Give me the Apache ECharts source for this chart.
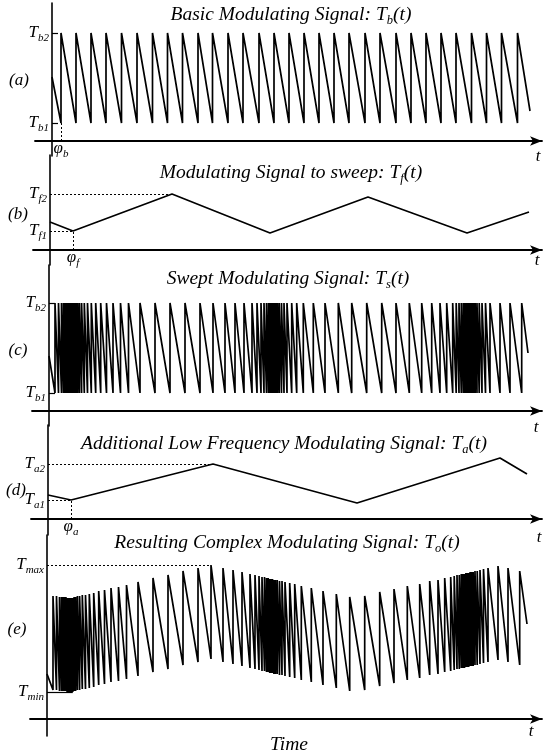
<!DOCTYPE html>
<html>
<head>
<meta charset="utf-8">
<script src="https://cdn.jsdelivr.net/npm/echarts@6/dist/echarts.min.js"></script>
<style>
	html, body { margin: 0; padding: 0; background: #fff; }
	#chart { width: 548px; height: 756px; }
</style>
</head>
<body>
<div id="chart"></div>
<script>
// ---- data (time and level units) ----

// (a) basic modulating signal T_b(t): instants of the sawtooth flyback
const basicFlybacks = [9, 24, 39, 54, 69.5, 85, 100.5, 115.5, 130.5, 146, 160.5, 176, 191, 207, 222, 237,
	252, 267, 282, 297, 313, 328, 344, 359, 374, 389, 404, 419.5, 434.5, 449.5, 465.5];
const basicLevels = [18, 108]; // T_b1, T_b2
const basicEnds = [[0, 64], [478, 30]];

// (b) modulating signal to sweep T_f(t)
const sweepTimes = [0, 23, 122, 220, 318, 417, 479];
const sweepValues = [28, 19, 56, 17, 53, 17, 38];

// (c) swept modulating signal T_s(t)
const sweptFlybacks = [6, 9.5, 12.5, 14.5, 16.2, 17.6, 18.9, 20.1, 21.3, 22.4,
	23.5, 24.6, 25.8, 27.1, 28.6, 30.4, 32.6, 35.3, 38.5, 42.3,
	46.7, 51.7, 57.5, 64, 71.5, 79.5, 91, 106, 121, 136,
	151, 164, 176, 186, 195, 203,
	208, 212, 215, 217.5, 219.5, 221.2, 222.7, 224.1, 225.5, 226.9,
	228.4, 230.2, 232.5, 235, 238, 242.7, 247.7, 254.3, 264.3, 276,
	289.3, 302.7, 317.7, 332.7, 347, 360.3, 372.7, 382.7, 391, 397.7,
	403.7,
	407.2, 410, 412.3, 414.3, 416, 417.5, 418.9, 420.3, 421.7, 423.1,
	424.6, 426.2, 428, 430.2, 433, 436.5, 441, 451, 461, 472.7];
const sweptLevels = [18, 108];
const sweptEnds = [[0, 55], [479, 58]];

// (d) additional low frequency modulating signal T_a(t)
const lowTimes = [0, 23, 165, 309, 452, 479];
const lowValues = [24, 19, 55, 16, 61, 45];

// (e) resulting complex signal T_o(t), same flyback instants as (c)
const resultLows = [29, 29, 28, 28, 28, 28, 28, 27, 27, 27,
	27, 27, 27, 28, 28, 29, 29, 30, 30, 31,
	32, 34, 35, 37, 38, 40, 43, 47, 50, 54,
	57, 60, 57, 55, 53, 51,
	50, 49, 48, 48, 47, 47, 46, 46, 46, 45,
	45, 45, 44, 44, 43, 42, 41, 39, 37, 34,
	31, 28, 29, 33, 36, 39, 41, 44, 45, 47,
	48,
	49, 50, 50, 51, 51, 51, 52, 52, 52, 53,
	53, 53, 54, 54, 55, 56, 57, 59, 57, 54];
const resultHighs = [123, 123, 122, 122, 122, 122, 122, 121, 121, 121,
	121, 121, 121, 122, 122, 123, 123, 124, 124, 125,
	126, 128, 129, 131, 132, 134, 137, 141, 144, 148,
	151, 154, 151, 149, 147, 145,
	144, 143, 142, 142, 141, 141, 140, 140, 140, 139,
	139, 139, 138, 138, 137, 136, 135, 133, 131, 128,
	125, 122, 123, 127, 130, 133, 135, 138, 139, 141,
	142,
	143, 144, 144, 145, 145, 145, 146, 146, 146, 147,
	147, 147, 148, 148, 149, 150, 151, 153, 151, 148];
const resultEnds = [[0, 45], [480, 95]];

// ---- styling helpers ----
const SERIF = '"Liberation Serif", "Times New Roman", serif';
const INK = "#000";

const RICH = {
	m: { fontFamily: SERIF, fontStyle: "italic", fontSize: 17, lineHeight: 22, color: INK, fill: INK },
	s: { fontFamily: SERIF, fontStyle: "italic", fontSize: 11, lineHeight: 11, verticalAlign: "bottom", color: INK, fill: INK },
	h: { fontFamily: SERIF, fontStyle: "italic", fontSize: 19.5, lineHeight: 24, color: INK, fill: INK },
	hs: { fontFamily: SERIF, fontStyle: "italic", fontSize: 12.5, lineHeight: 12, verticalAlign: "bottom", color: INK, fill: INK },
};

function sawtooth(ends, flybacks, lows, highs) {
	const pts = [ends[0]];
	flybacks.forEach((t, i) => {
		pts.push([t, lows[i]], [t, highs[i]]);
	});
	pts.push(ends[1]);
	return pts;
}

function zip(xs, ys) {
	return xs.map((x, i) => [x, ys[i]]);
}

const grids = [];
const xAxes = [];
const yAxes = [];

// one panel: its vertical axis sits at axisX, its time axis at axisY (pixels)
function panel(axisX, axisY, yMin, yMax, labelVals, labelFmt, ticks) {
	const left = axisX - 17;
	grids.push({ left: left, right: 6, top: axisY - yMax, height: yMax - yMin });
	const i = grids.length - 1;
	xAxes.push({
		type: "value",
		gridIndex: i,
		min: -17,
		max: 542 - axisX,
		axisLine: {
			onZero: true,
			symbol: ["none", "arrow"],
			symbolSize: [7, 12],
			lineStyle: { color: INK, width: 1.8 },
		},
		axisTick: { show: false },
		axisLabel: { show: false },
		splitLine: { show: false },
	});
	yAxes.push({
		type: "value",
		gridIndex: i,
		min: yMin,
		max: yMax,
		axisLine: { show: true, onZero: true, lineStyle: { color: INK, width: 1.6 } },
		axisTick: {
			show: !!ticks,
			inside: true,
			length: 6,
			customValues: labelVals,
			lineStyle: { color: INK, width: 1.2 },
		},
		axisLabel: {
			show: true,
			margin: -14,
			customValues: labelVals,
			formatter: labelFmt,
			rich: RICH,
		},
		splitLine: { show: false },
	});
	return i;
}

const resultMin = Math.min(...resultLows);
const resultMax = Math.max(...resultHighs);
const minIdx = resultLows.lastIndexOf(resultMin);
const maxIdx = resultHighs.indexOf(resultMax);

panel(52, 141, -15, 138, basicLevels,
	(v) => (v === basicLevels[1] ? "{m|T}{s|b2}" : "{m|T}{s|b1}"), true);
panel(50, 250, -15, 95, [sweepValues[1], sweepValues[2]],
	(v) => (v === sweepValues[2] ? "{m|T}{s|f2}" : "{m|T}{s|f1}"), false);
panel(49, 411, -15, 146, sweptLevels,
	(v) => (v === sweptLevels[1] ? "{m|T}{s|b2}" : "{m|T}{s|b1}"), true);
panel(48, 519, -16, 94, [lowValues[1], lowValues[2]],
	(v) => (v === lowValues[2] ? "{m|T}{s|a2}" : "{m|T}{s|a1}"), false);
panel(47, 719, -17, 184, [resultMin, resultMax],
	(v) => (v === resultMax ? "{m|T}{s|max}" : "{m|T}{s|min}"), false);

const signalStyle = { color: INK, width: 1.7 };

function guide(data) {
	return {
		silent: true,
		symbol: ["none", "none"],
		animation: false,
		precision: 2,
		label: { show: false, rich: RICH },
		lineStyle: { color: INK, type: [2, 2], width: 1 },
		data: data,
	};
}

function phiLine(t, v, sub) {
	return [
		{
			coord: [t, 0],
			label: { show: true, position: "start", distance: -3, formatter: "{m|φ}{s|" + sub + "}", rich: RICH },
		},
		{ coord: [t, v] },
	];
}

const series = [
	{
		type: "line",
		xAxisIndex: 0,
		yAxisIndex: 0,
		data: sawtooth(basicEnds, basicFlybacks,
			basicFlybacks.map(() => basicLevels[0]), basicFlybacks.map(() => basicLevels[1])),
		showSymbol: false,
		lineStyle: signalStyle,
		markLine: guide([phiLine(basicFlybacks[0], basicLevels[0], "b")]),
	},
	{
		type: "line",
		xAxisIndex: 1,
		yAxisIndex: 1,
		data: zip(sweepTimes, sweepValues),
		showSymbol: false,
		lineStyle: signalStyle,
		markLine: guide([
			[{ coord: [0, sweepValues[2]] }, { coord: [sweepTimes[2], sweepValues[2]] }],
			[{ coord: [0, sweepValues[1]] }, { coord: [sweepTimes[1], sweepValues[1]] }],
			phiLine(sweepTimes[1], sweepValues[1], "f"),
		]),
	},
	{
		type: "line",
		xAxisIndex: 2,
		yAxisIndex: 2,
		data: sawtooth(sweptEnds, sweptFlybacks,
			sweptFlybacks.map(() => sweptLevels[0]), sweptFlybacks.map(() => sweptLevels[1])),
		showSymbol: false,
		lineStyle: signalStyle,
	},
	{
		type: "line",
		xAxisIndex: 3,
		yAxisIndex: 3,
		data: zip(lowTimes, lowValues),
		showSymbol: false,
		lineStyle: signalStyle,
		markLine: guide([
			[{ coord: [0, lowValues[2]] }, { coord: [lowTimes[2], lowValues[2]] }],
			[{ coord: [0, lowValues[1]] }, { coord: [lowTimes[1], lowValues[1]] }],
			phiLine(lowTimes[1], lowValues[1], "a"),
		]),
	},
	{
		type: "line",
		xAxisIndex: 4,
		yAxisIndex: 4,
		data: sawtooth(resultEnds, sweptFlybacks, resultLows, resultHighs),
		showSymbol: false,
		lineStyle: signalStyle,
		markLine: guide([
			[{ coord: [0, resultMax] }, { coord: [sweptFlybacks[maxIdx], resultMax] }],
			[
				{ coord: [0, resultMin], lineStyle: { type: "solid", width: 1.2 } },
				{ coord: [sweptFlybacks[minIdx], resultMin] },
			],
		]),
	},
];

// titles and free labels
const texts = [
	["{h|Basic Modulating Signal: T}{hs|b}{h|(t)}", 291, 15],
	["{h|Modulating Signal to sweep: T}{hs|f}{h|(t)}", 291, 173],
	["{h|Swept Modulating Signal: T}{hs|s}{h|(t)}", 288, 279],
	["{h|Additional Low Frequency Modulating Signal: T}{hs|a}{h|(t)}", 284, 444],
	["{h|Resulting Complex Modulating Signal: T}{hs|o}{h|(t)}", 287, 543],
	["{h|Time}", 289, 745],
	["{m|(a)}", 19, 81],
	["{m|(b)}", 18, 215],
	["{m|(c)}", 18, 351],
	["{m|(d)}", 16, 491],
	["{m|(e)}", 17, 630],
	["{m|t}", 538, 157],
	["{m|t}", 537, 261],
	["{m|t}", 536, 428],
	["{m|t}", 539, 538],
	["{m|t}", 531, 732],
];

const graphic = texts.map(([text, x, y]) => ({
	type: "text",
	x: x,
	y: y,
	silent: true,
	style: { text: text, rich: RICH, fill: INK, align: "center", verticalAlign: "middle" },
}));

const chart = echarts.init(document.getElementById("chart"), null, { renderer: "canvas" });
chart.setOption({
	backgroundColor: "#fff",
	animation: false,
	grid: grids,
	xAxis: xAxes,
	yAxis: yAxes,
	series: series,
	graphic: graphic,
});
</script>
</body>
</html>
